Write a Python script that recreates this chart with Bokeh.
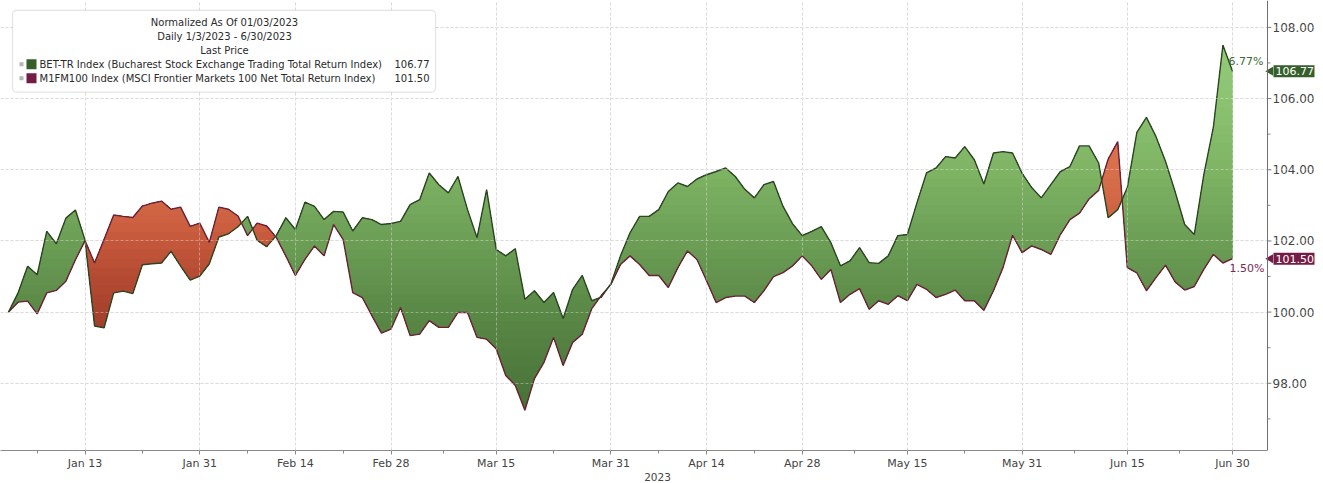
import numpy as np
import pandas as pd
from bokeh.plotting import figure
from bokeh.models import (Range1d, FixedTicker, NumeralTickFormatter, Label, BoxAnnotation,
                          Span, Grid)
from bokeh.embed import file_html
from bokeh.resources import INLINE

# ---------------- data ----------------
dates = pd.bdate_range("2023-01-03", "2023-06-30")

bet_tr = [
    100.00, 100.54, 101.29, 101.05, 102.27, 101.92, 102.64, 102.87, 102.03, 99.61,
    99.56, 100.54, 100.59, 100.52, 101.33, 101.36, 101.38, 101.71, 101.29, 100.90,
    101.01, 101.36, 102.11, 102.20, 102.40, 102.69, 102.02, 101.84, 102.15, 102.65,
    102.32, 103.09, 102.97, 102.60, 102.83, 102.81, 102.28, 102.65, 102.60, 102.46,
    102.49, 102.55, 103.02, 103.16, 103.91, 103.58, 103.35, 103.81, 102.88, 102.09,
    103.44, 101.76, 101.58, 101.78, 100.36, 100.60, 100.27, 100.55, 99.82, 100.64,
    101.03, 100.32, 100.42, 100.80, 101.58, 102.23, 102.69, 102.69, 102.88, 103.39,
    103.63, 103.53, 103.74, 103.86, 103.95, 104.05, 103.81, 103.45, 103.21, 103.58,
    103.67, 102.97, 102.48, 102.15, 102.27, 102.40, 101.95, 101.30, 101.44, 101.81,
    101.39, 101.37, 101.58, 102.15, 102.18, 103.07, 103.91, 104.05, 104.37, 104.33,
    104.65, 104.28, 103.60, 104.47, 104.51, 104.47, 103.90, 103.50, 103.21, 103.58,
    103.95, 104.09, 104.67, 104.67, 104.19, 102.65, 102.88, 103.50, 105.05, 105.47,
    104.93, 104.23, 103.38, 102.46, 102.18, 103.86, 105.20, 107.50, 106.77,
]

m1fm100 = [
    100.00, 100.28, 100.31, 99.95, 100.54, 100.61, 100.87, 101.47, 102.01, 101.38,
    102.05, 102.73, 102.69, 102.66, 102.98, 103.06, 103.12, 102.89, 102.95, 102.41,
    102.50, 101.96, 102.95, 102.89, 102.70, 102.15, 102.50, 102.42, 102.10, 101.58,
    101.03, 101.48, 101.86, 101.58, 102.46, 102.04, 100.55, 100.41, 99.90, 99.41,
    99.52, 100.13, 99.34, 99.38, 99.76, 99.57, 99.57, 99.99, 99.99, 99.29,
    99.24, 98.97, 98.22, 97.94, 97.24, 98.13, 98.59, 99.29, 98.50, 99.15,
    99.38, 100.10, 100.47, 100.78, 101.34, 101.58, 101.34, 101.03, 101.03, 100.69,
    101.25, 101.72, 101.48, 100.88, 100.27, 100.41, 100.45, 100.45, 100.27, 100.60,
    101.00, 101.11, 101.30, 101.58, 101.30, 100.92, 101.20, 100.27, 100.50, 100.66,
    100.08, 100.32, 100.22, 100.46, 100.32, 100.78, 100.64, 100.41, 100.50, 100.62,
    100.32, 100.32, 100.05, 100.60, 101.25, 102.16, 101.67, 101.86, 101.76, 101.62,
    102.18, 102.60, 102.78, 103.18, 103.42, 104.30, 104.79, 101.25, 101.10, 100.60,
    100.97, 101.32, 100.85, 100.62, 100.72, 101.20, 101.62, 101.38, 101.50,
]

tick_dates = ["2023-01-13", "2023-01-31", "2023-02-14", "2023-02-28", "2023-03-15", "2023-03-31",
              "2023-04-14", "2023-04-28", "2023-05-15", "2023-05-31", "2023-06-15", "2023-06-30"]
tick_labels = ["Jan 13", "Jan 31", "Feb 14", "Feb 28", "Mar 15", "Mar 31",
               "Apr 14", "Apr 28", "May 15", "May 31", "Jun 15", "Jun 30"]
y_ticks = [98, 100, 102, 104, 106, 108]
y_minor = [97, 99, 101, 103, 105, 107]
year_label = "2023"

header_lines = ["Normalized As Of 01/03/2023", "Daily 1/3/2023 - 6/30/2023", "Last Price"]
series_names = ["BET-TR Index (Bucharest Stock Exchange Trading Total Return Index)",
                "M1FM100 Index (MSCI Frontier Markets 100 Net Total Return Index)"]
last_values = [106.77, 101.50]
pct_labels = ["6.77%", "1.50%"]

# ---------------- styling ----------------
BET_LINE = "#2c4623"
MSCI_LINE = "#6a2236"
BET_SWATCH = "#365f2c"
MSCI_SWATCH = "#741c44"
AXIS_GRAY = "#707070"
FONT = "DejaVu Sans"

green_stops = [(96.0, (66, 104, 50)), (97.0, (70, 110, 54)), (100.0, (90, 136, 70)),
               (102.0, (108, 158, 86)), (104.0, (126, 180, 100)), (106.0, (140, 195, 114)),
               (108.8, (154, 208, 128))]
red_stops = [(96.0, (150, 55, 38)), (99.5, (162, 62, 43)), (101.0, (180, 74, 51)),
             (102.5, (204, 96, 64)), (104.0, (216, 112, 76)), (108.8, (224, 122, 86))]


def ramp(stops, v):
    vs = [s[0] for s in stops]
    rgb = [np.interp(v, vs, [s[1][k] for s in stops]) for k in range(3)]
    return "#%02x%02x%02x" % tuple(int(round(c)) for c in rgb)


# ---------------- geometry (page px <-> data) ----------------
W, H = 1323, 483
R_BORDER = 9                 # thin right panel; the value axis labels sit inside the frame strip
FRAME_W, FRAME_H = W - R_BORDER, 452
AXIS_PX = 1267               # where the value axis line is drawn
SX = 9.5625                  # px per trading day
SY = 35.75                   # px per index point
X_START = -8 / SX
X_END = X_START + FRAME_W / SX
Y_HI = 100 + 313 / SY
Y_LO = Y_HI - FRAME_H / SY


def px2x(px):
    return X_START + px / SX


def py2y(py):
    return Y_HI - py / SY


p = figure(width=W, height=H,
           x_range=Range1d(X_START, X_END), y_range=Range1d(Y_LO, Y_HI),
           y_axis_location="right", toolbar_location=None, output_backend="svg",
           min_border_left=0, min_border_top=0, min_border_right=R_BORDER,
           min_border_bottom=H - FRAME_H)
p.outline_line_color = None
p.background_fill_color = "white"
p.border_fill_color = "white"

# grid (under the fills) and a white cover over the axis strip
for g in (p.xgrid[0], p.ygrid[0]):
    g.grid_line_color = "#c8c8c8"
    g.grid_line_dash = "3 2"
    g.grid_line_width = 1
p.ygrid[0].ticker = FixedTicker(ticks=y_ticks)
p.add_layout(BoxAnnotation(left=px2x(AXIS_PX + 0.5), right=X_END + 5, bottom=Y_LO - 1, top=Y_HI + 1,
                           fill_color="white", fill_alpha=1.0, line_color=None, level="underlay"))

# ---------------- gradient fills between the two series ----------------
x = np.arange(len(dates), dtype=float)
b = np.array(bet_tr)
m = np.array(m1fm100)
levels = np.arange(96.0, 108.51, 0.25)

xs = list(x)
for i in range(len(x) - 1):
    d0, d1 = b[i] - m[i], b[i + 1] - m[i + 1]
    if d0 * d1 < 0:
        xs.append(i + d0 / (d0 - d1))
    for s in (b, m):
        lo, hi = sorted((s[i], s[i + 1]))
        for L in levels[(levels > lo) & (levels < hi)]:
            xs.append(i + (L - s[i]) / (s[i + 1] - s[i]))
xs = np.unique(np.array(xs))
bx = np.interp(xs, x, b)
mx = np.interp(xs, x, m)
top = np.maximum(bx, mx)

for L in levels:
    mid = L + 0.125
    p.varea(x=xs, y1=np.maximum(mx, L), y2=np.maximum(top, L),
            fill_color=ramp(green_stops, mid), fill_alpha=1.0)
    p.varea(x=xs, y1=np.maximum(bx, L), y2=np.maximum(top, L),
            fill_color=ramp(red_stops, mid), fill_alpha=1.0)

p.line(x, m1fm100, line_color=MSCI_LINE, line_width=1.4)
p.line(x, bet_tr, line_color=BET_LINE, line_width=1.4)

# ---------------- x axis ----------------
tick_idx = [int(dates.get_loc(pd.Timestamp(d))) for d in tick_dates]
minor_idx = [tick_idx[0] - 5] + [(a + c) / 2 for a, c in zip(tick_idx[:-1], tick_idx[1:])]
p.xgrid[0].ticker = FixedTicker(ticks=tick_idx)
xa = p.xaxis[0]
xa.ticker = FixedTicker(ticks=tick_idx, minor_ticks=minor_idx)
xa.major_label_overrides = {t: lab for t, lab in zip(tick_idx, tick_labels)}
xa.bounds = (X_START, px2x(AXIS_PX))
xa.axis_label = year_label
xa.axis_label_text_font_style = "normal"
xa.axis_label_text_font = FONT
xa.axis_label_text_font_size = "10.5px"
xa.axis_label_text_color = "#444444"
xa.axis_label_standoff = 0
xa.major_label_text_font = FONT
xa.major_label_text_font_size = "11px"
xa.major_label_text_color = "#444444"
xa.major_label_standoff = 2
xa.axis_line_color = "#8a8a8a"
xa.major_tick_line_color = "#8a8a8a"
xa.minor_tick_line_color = "#8a8a8a"
xa.major_tick_in = 0
xa.major_tick_out = 4
xa.minor_tick_in = 0
xa.minor_tick_out = 3

# light grid strokes over the fills (gridlines show through the area in the original)
p.add_layout(Grid(dimension=0, ticker=FixedTicker(ticks=tick_idx), grid_line_color="white",
                  grid_line_alpha=0.35, grid_line_dash="3 2", level="guide"))
p.add_layout(Grid(dimension=1, ticker=FixedTicker(ticks=y_ticks), grid_line_color="white",
                  grid_line_alpha=0.35, grid_line_dash="3 2", level="guide"))

# ---------------- value axis (labels placed just right of the axis line) ----------------
ya = p.yaxis[0]
ya.ticker = FixedTicker(ticks=y_ticks, minor_ticks=y_minor)
ya.formatter = NumeralTickFormatter(format="0.00")
ya.major_label_text_font = FONT
ya.major_label_text_font_size = "12px"
ya.major_label_text_color = "#444444"
ya.major_label_standoff = (AXIS_PX + 5) - FRAME_W
ya.axis_line_color = None
ya.major_tick_line_color = None
ya.minor_tick_line_color = None
ya.major_tick_in = 0
ya.major_tick_out = 0
ya.minor_tick_in = 0
ya.minor_tick_out = 0

p.add_layout(Span(location=px2x(AXIS_PX), dimension="height", line_color=AXIS_GRAY, line_width=1))
p.segment(x0=[px2x(AXIS_PX)] * len(y_ticks), x1=[px2x(AXIS_PX + 4)] * len(y_ticks),
          y0=y_ticks, y1=y_ticks, line_color=AXIS_GRAY, line_width=1)
p.segment(x0=[px2x(AXIS_PX)] * len(y_minor), x1=[px2x(AXIS_PX + 3)] * len(y_minor),
          y0=y_minor, y1=y_minor, line_color="#8a8a8a", line_width=1)

# ---------------- percent labels at the series ends ----------------
p.add_layout(Label(x=x[-1], y=last_values[0], text=pct_labels[0], x_offset=-4, y_offset=3,
                   text_align="left", text_baseline="bottom", text_font=FONT,
                   text_font_size="11px", text_color="#3c6a30"))
p.add_layout(Label(x=x[-1], y=last_values[1], text=pct_labels[1], x_offset=-3, y_offset=-3,
                   text_align="left", text_baseline="top", text_font=FONT,
                   text_font_size="11px", text_color="#7a2a50"))

# ---------------- last-value tags ----------------
tag_colors = [BET_SWATCH, MSCI_SWATCH]
p.scatter(x=[px2x(AXIS_PX + 3)] * 2, y=last_values, marker="triangle", angle=np.pi / 2, size=9,
          fill_color=tag_colors, line_color=None)
for val, col in zip(last_values, tag_colors):
    p.add_layout(Label(x=px2x(AXIS_PX + 6), y=val, text="%.2f" % val, text_align="left",
                       text_baseline="middle", text_font=FONT, text_font_size="11px",
                       text_color="white", background_fill_color=col, background_fill_alpha=1.0,
                       padding=2))

# ---------------- legend box ----------------
p.add_layout(BoxAnnotation(left=px2x(12), right=px2x(435), top=py2y(10), bottom=py2y(92),
                           fill_color="white", fill_alpha=1.0, line_color="#a5a5a5",
                           line_width=1.2, border_radius=4))
for j, txt in enumerate(header_lines):
    p.add_layout(Label(x=px2x(224), y=py2y(22 + 14 * j), text=txt, text_align="center",
                       text_baseline="middle", text_font=FONT, text_font_size="10px",
                       text_color="#2a2a2a"))
for j, (name, val, col) in enumerate(zip(series_names, last_values, tag_colors)):
    yc = 64 + 14 * j
    p.add_layout(BoxAnnotation(left=px2x(19), right=px2x(23), top=py2y(yc - 2), bottom=py2y(yc + 2),
                               fill_color="#b5b5b5", fill_alpha=1.0, line_color=None))
    p.add_layout(BoxAnnotation(left=px2x(26), right=px2x(36), top=py2y(yc - 5), bottom=py2y(yc + 5),
                               fill_color=col, fill_alpha=1.0, line_color=None))
    p.add_layout(Label(x=px2x(39), y=py2y(yc), text=name, text_align="left",
                       text_baseline="middle", text_font=FONT, text_font_size="10px",
                       text_color="#2a2a2a"))
    p.add_layout(Label(x=px2x(429), y=py2y(yc), text="%.2f" % val, text_align="right",
                       text_baseline="middle", text_font=FONT, text_font_size="10px",
                       text_color="#2a2a2a"))

open("out.html", "w").write(file_html(p, INLINE))
